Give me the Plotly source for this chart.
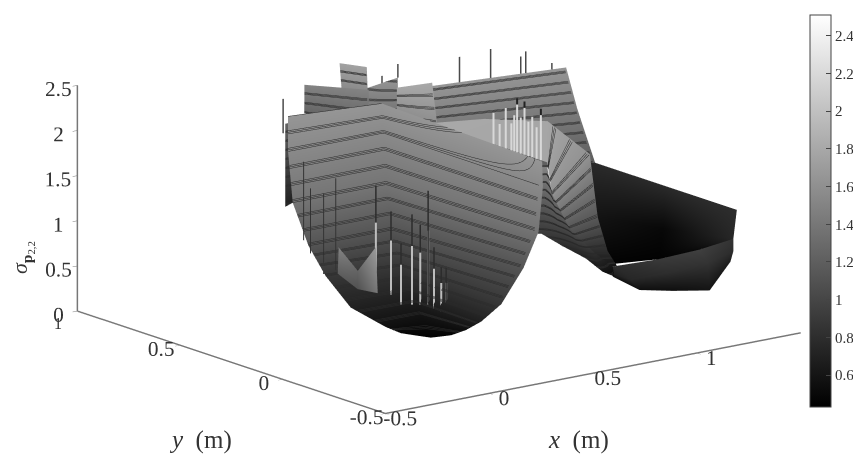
import plotly.graph_objects as go

# bowl sheet: level rows
A_x = [[.187,.39,.59,.65,.713],[.031,.26,.49,.49,.485],[-.175,.05,.275,.29,.307],[-.274,-.075,.124,.15,.178],
       [-.25,-.09,.07,.07,.068],[-.256,-.11,.035,.024,.013],[-.162,-.073,.016,.035,.055],[-.09,-.065,-.04,.0,.045]]
A_y = [[.669,.645,.62,.29,-.037],[.511,.51,.51,.12,-.271],[.28,.28,.28,-.075,-.43],[.103,.10,.10,-.19,-.487],
       [.044,.02,0,-.245,-.49],[-.084,-.087,-.09,-.27,-.448],[-.16,-.16,-.16,-.246,-.332],[-.161,-.21,-.256,-.263,-.27]]
A_z = [[2.1,2.1,2.1,2.0,1.9],[1.9]*5,[1.6]*5,[1.3]*5,[1.0,1.0,1.0,.97,.95],[.75]*5,[.55]*5,[.45]*5]
A_c = [[1.65]*5,[1.55]*5,[1.38]*5,[1.12]*5,[.88]*5,[.7]*5,[.56]*5,[.46]*5]

# far wall
B_x = [[.841,1.14,1.439],[.83,1.13,1.427],[.79,1.12,1.44]]
B_y = [[.652,.616,.58],[.643,.58,.514],[.6,.52,.44]]
B_z = [[2.15]*3,[1.75]*3,[1.2]*3]
B_c = [[1.65]*3,[1.45]*3,[1.2]*3]

# descending ribbon
C_x = [[.756,.951],[.761,1.139],[.69,1.173],[.763,.95],[.914,.96],[1.081,1.1]]
C_y = [[.54,.485],[-.013,.367],[-.109,.196],[-.119,-.068],[-.079,-.106],[-.009,-.01]]
C_z = [[1.87,1.87],[1.85,1.85],[1.6,1.6],[1.2,1.2],[.85,.85],[.55,.55]]
C_c = [[1.8,1.8],[1.78,1.78],[1.62,1.62],[1.15,1.15],[.8,.8],[.6,.6]]

# wall under the ribbon
F_x = [[.72,.761,.69,.763,.914,1.081],[.806,.834,.909,.95,1.003,1.052]]
F_y = [[0,-.013,-.109,-.119,-.079,-.009],[.105,.089,.062,-.009,-.038,-.048]]
F_z = [[1.8,1.8,1.6,1.2,.85,.55],[.95,.95,.8,.7,.55,.48]]
F_c = [[1.5,1.5,1.35,1.1,.85,.6],[.9,.9,.8,.7,.6,.5]]

# dark rear slope of the right valley
D_x = [[1.44,1.44,1.44],[1.228,1.332,1.453],[1.08,1.161,1.21]]
D_y = [[.48,.1,-.25],[.25,0,-.22],[.02,-.148,-.3]]
D_z = [[1.2,1.2,1.2],[.85,.85,.85],[.55,.7,.9]]
D_c = [[.78,.78,.8],[.6,.5,.75],[.45,.45,.5]]

# front floor of the right valley
E_x = [[1.08,1.1,1.161,1.21,1.453],[1.06,1.056,1.144,1.237,1.384],[1.045,1.03,1.124,1.24,1.36]]
E_y = [[-.01,-.01,-.148,-.3,-.22],[-.019,-.122,-.214,-.315,-.29],[-.048,-.19,-.258,-.32,-.3]]
E_z = [[.55,.55,.7,.9,.85],[.5,.5,.6,.75,.8],[.48,.45,.45,.45,.7]]
E_c = [[.8,.8,.9,.95,.85],[.7,.75,.8,.85,.8],[.55,.55,.55,.6,.65]]

# small back panels
L_x = [[.359,.419],[.359,.419]]
L_y = [[.856,.856],[.856,.856]]
L_z = [[1.8,1.8],[.88,.93]]
L_c = [[1.25,1.25],[.7,.7]]
G_x = [[.443,.593],[.43,.534]]
G_y = [[.848,.686],[.835,.627]]
G_z = [[2.2,2.2],[1.9,1.9]]
G_c = [[1.5,1.5],[1.25,1.25]]
H_x = [[.583,.63],[.591,.635]]
H_y = [[.818,.733],[.816,.733]]
H_z = [[2.4,2.4],[2.1,2.1]]
H_c = [[1.75,1.75],[1.55,1.55]]
I_x = [[.653,.752],[.617,.743]]
I_y = [[.781,.705],[.744,.696]]
I_z = [[2.1,2.25],[1.85,1.9]]
I_c = [[1.55,1.65],[1.35,1.4]]
J_x = [[.698,.851],[.698,.743]]
J_y = [[.655,.638],[.655,.505]]
J_z = [[2.2,2.2],[1.95,1.9]]
J_c = [[1.8,1.8],[1.6,1.6]]

# pale patch low on the bowl
U_x = [[-.196,-.204,-.097],[-.25,-.248,-.183]]
U_y = [[.035,-.066,-.046],[-.015,-.11,-.142]]
U_z = [[1.3,1.12,1.32],[1.07,.97,.92]]
U_c = [[1.5,1.25,1.7],[1.2,1.1,1.4]]

# spikes on the bowl
front_x = [-.097,-.051,-.035,.01,.029,.029,.029,.031,.038]
front_y = [-.046,-.073,-.106,-.114,-.135,-.173,-.202,-.235,-.252]
front_base = [.83,.795,.70,.686,.694,.723,.70,.69,.70]
front_top = [2.0,1.715,1.38,1.686,1.58,1.984,1.38,1.18,1.19]
left_x = [-.2,-.238,-.296,-.279]
left_y = [.045,.066,.071,.122]
left_base = [1.0,1.0,1.25,1.35]
left_top = [2.06,1.89,1.97,2.22]

# spikes along the far rim
rear_x = [.98,1.114,1.244,1.265,1.378,.752,.72,.349]
rear_y = [.635,.619,.604,.601,.588,.705,.75,.856]
rear_base = [2.15,2.15,2.15,2.15,2.15,2.25,2.15,1.7]
rear_top = [2.43,2.47,2.34,2.39,2.22,2.4,2.25,2.08]

# jagged ridge behind the bowl rim
ridge_x = [.72,.72,.72,.72,.72,.72,.72,.72,.72,.72,.72,.72]
ridge_y = [.207,.177,.147,.12,.106,.092,.074,.056,.037,.018,-.003,-.024]
ridge_base = [1.9,1.9,1.9,1.9,1.9,1.9,1.9,1.9,1.9,1.9,1.9,1.9]
ridge_top = [2.25,2.15,2.35,2.2,2.3,2.43,2.3,2.42,2.28,2.35,2.25,2.4]
tip_x = [.72,.72,.72]
tip_y = [.092,.056,-.024]
tip_base = [2.43,2.42,2.4]
tip_top = [2.5,2.49,2.47]

cb_ticks = [.6,.8,1,1.2,1.4,1.6,1.8,2,2.2,2.4]
cb_text = ["0.6","0.8","1","1.2","1.4","1.6","1.8","2","2.2","2.4"]

SERIF = "Liberation Serif"
fig = go.Figure()
LIGHT = dict(ambient=1, diffuse=0, specular=0, fresnel=0, roughness=1)
OFF = dict(highlight=False)

def sheet(x, y, z, c, lines=True):
    fig.add_trace(go.Surface(x=x, y=y, z=z, surfacecolor=c, coloraxis="coloraxis", lighting=LIGHT,
                             contours=dict(x=OFF, y=OFF, z=OFF), hoverinfo="skip"))
    if lines:
        for off in (0, .009, .018):
            fig.add_trace(go.Surface(x=x, y=y, z=z, surfacecolor=c, coloraxis="coloraxis", lighting=LIGHT,
                                     hidesurface=True, hoverinfo="skip",
                                     contours=dict(x=OFF, y=OFF, z=dict(show=True, start=.5 + off, end=2.5, size=.1,
                                                                        color="#2a2a2a", width=2, highlight=False))))

sheet(A_x, A_y, A_z, A_c)
sheet(B_x, B_y, B_z, B_c)
sheet(C_x, C_y, C_z, C_c)
sheet(F_x, F_y, F_z, F_c)
sheet(D_x, D_y, D_z, D_c, lines=False)
sheet(E_x, E_y, E_z, E_c, lines=False)
for sx, sy, sz, sc in [(L_x, L_y, L_z, L_c), (G_x, G_y, G_z, G_c), (H_x, H_y, H_z, H_c), (I_x, I_y, I_z, I_c), (J_x, J_y, J_z, J_c)]:
    sheet(sx, sy, sz, sc)
sheet(U_x, U_y, U_z, U_c, lines=False)

def spikes(xs, ys, lo, hi, color, width):
    px, py, pz = [], [], []
    for a, b, c, d in zip(xs, ys, lo, hi):
        px += [a, a, None]; py += [b, b, None]; pz += [c, d, None]
    fig.add_trace(go.Scatter3d(x=px, y=py, z=pz, mode="lines", line=dict(color=color, width=width),
                               hoverinfo="skip", showlegend=False))

spikes(front_x, front_y, front_base, front_top, "#2c2c2c", 3)
spikes(front_x, front_y, front_base, [b + .65 * (t - b) for b, t in zip(front_base, front_top)], "#bdbdbd", 4)
spikes(left_x, left_y, left_base, left_top, "#333333", 2)
spikes(rear_x, rear_y, rear_base, rear_top, "#4a4a4a", 3)
spikes(ridge_x, ridge_y, ridge_base, ridge_top, "#d8d8d8", 4)
spikes(tip_x, tip_y, tip_base, tip_top, "#222222", 4)

def axis(rng, vals, text):
    return dict(range=rng, tickvals=vals, ticktext=text, title=dict(text=""), showgrid=False, zeroline=False,
                showbackground=False, showline=True, linecolor="#777", linewidth=3, ticks="outside",
                ticklen=6, tickcolor="#777", tickangle=0, tickfont=dict(family=SERIF, size=16, color="#333"),
                showspikes=False, autorange=False)

r = 4
zoom = 2.23
cz = -.12
fig.update_layout(
    width=861, height=455, margin=dict(l=0, r=0, t=0, b=0, autoexpand=False), paper_bgcolor="white", showlegend=False,
    coloraxis=dict(cmin=.43, cmax=2.51, colorscale=[[0, "#000"], [1, "#fff"]],
                   colorbar=dict(x=.9257, xanchor="left", y=.5536, yanchor="middle", len=.8615, lenmode="fraction",
                                 xpad=5, ypad=0,
                                 thickness=21, thicknessmode="pixels", tickvals=cb_ticks, ticktext=cb_text,
                                 ticks="inside", ticklen=5, tickcolor="#444", outlinecolor="#444", outlinewidth=1,
                                 tickfont=dict(family=SERIF, size=15, color="#333"))),
    scene=dict(domain=dict(x=[.006, .996], y=[0, 1]),
               xaxis=axis([-.5, 1.5], [-.5, 0, .5, 1], ["-0.5", "0", "0.5", "1"]),
               yaxis=axis([-.5, 1], [-.5, 0, .5, 1], ["-0.5", "0", "0.5", ""]),
               zaxis=axis([0, 2.5], [0, .5, 1, 1.5, 2, 2.5], ["0", "0.5", "1", "1.5", "2", "2.5"]),
               aspectmode="manual", aspectratio=dict(x=1.03 * zoom, y=zoom, z=.46 * zoom),
               camera=dict(projection=dict(type="orthographic"), up=dict(x=0, y=0, z=1),
                           center=dict(x=0, y=0, z=cz), eye=dict(x=-.587 * r, y=-.768 * r, z=.254 * r + cz))),
    annotations=[
        dict(text="<i>y</i>\u00a0\u00a0(m)", x=192 / 861, y=1 - 432 / 455, xref="paper", yref="paper", showarrow=False,
             xanchor="center", yanchor="middle", font=dict(family=SERIF, size=25, color="#333")),
        dict(text="<i>x</i>\u00a0\u00a0(m)", x=570 / 861, y=1 - 432 / 455, xref="paper", yref="paper", showarrow=False,
             xanchor="center", yanchor="middle", font=dict(family=SERIF, size=25, color="#333")),
        dict(text="1", x=50 / 861, y=1 - 315 / 455, xref="paper", yref="paper", showarrow=False,
             xanchor="center", yanchor="middle", font=dict(family=SERIF, size=16, color="#333")),
        dict(text="<i>σ</i><sub><b>p</b><sub>2,2</sub></sub>", x=14 / 861, y=1 - 250 / 455, xref="paper", yref="paper",
             showarrow=False, textangle=-90, xanchor="center", yanchor="middle", font=dict(family=SERIF, size=22, color="#333")),
    ],
)
fig.write_html("out.html")
